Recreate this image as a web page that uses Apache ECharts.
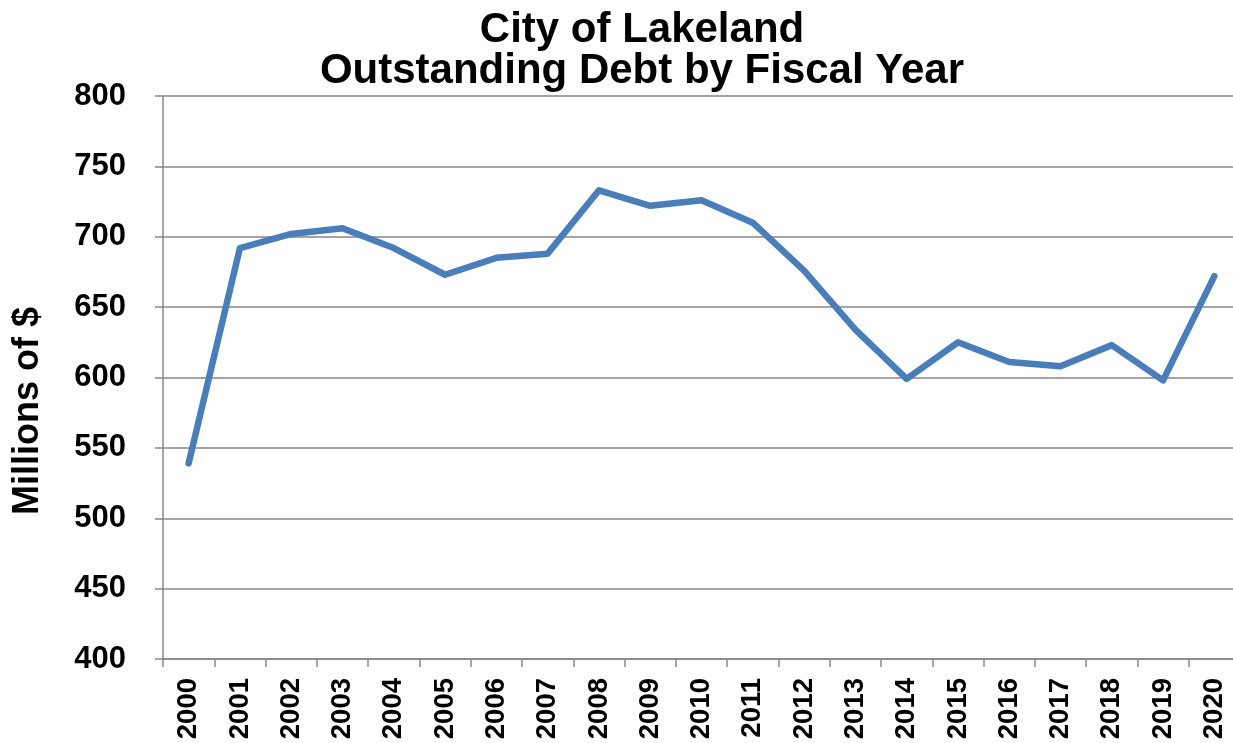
<!DOCTYPE html>
<html>
<head>
<meta charset="utf-8">
<script src="https://cdn.jsdelivr.net/npm/echarts@6/dist/echarts.min.js"></script>
<style>
  html, body { margin: 0; padding: 0; background: #fff; }
  #main { width: 1233px; height: 743px; }
</style>
</head>
<body>
<div id="main"></div>
<script>
// fiscal years and outstanding debt (millions of $)
var years = ['2000', '2001', '2002', '2003', '2004', '2005', '2006', '2007', '2008', '2009', '2010',
  '2011', '2012', '2013', '2014', '2015', '2016', '2017', '2018', '2019', '2020'];
var debt = [539, 692, 702, 706, 692, 673, 685, 688, 733, 722, 726,
  710, 676, 634, 599, 625, 611, 608, 623, 598, 672];
var titleLines = ['City of Lakeland', 'Outstanding Debt by Fiscal Year'];
var yName = 'Millions of $';

var font = "'Liberation Sans', Arial, sans-serif";
var gray = '#868686';

var chart = echarts.init(document.getElementById('main'));

var option = {
  backgroundColor: '#fff',
  animation: false,
  title: {
    text: titleLines.join('\n'),
    left: 637,
    top: 5,
    textAlign: 'center',
    textStyle: {
      fontFamily: font,
      fontWeight: 'bold',
      fontSize: 42,
      lineHeight: 41,
      color: '#000'
    }
  },
  grid: {
    left: 163,
    width: 1077,
    top: 96,
    bottom: 84,
    containLabel: false,
    outerBoundsMode: 'none'
  },
  xAxis: {
    type: 'category',
    data: years,
    boundaryGap: true,
    axisLine: { lineStyle: { color: gray, width: 1.5 } },
    axisTick: { show: true, length: 8, lineStyle: { color: gray, width: 1.5 } },
    axisLabel: {
      rotate: 90,
      margin: 19,
      interval: 0,
      fontFamily: font,
      fontWeight: 'bold',
      fontSize: 27.5,
      color: '#000'
    },
    splitLine: { show: false }
  },
  yAxis: {
    type: 'value',
    min: 400,
    max: 800,
    interval: 50,
    axisLine: { show: true, lineStyle: { color: gray, width: 1.5 } },
    axisTick: { show: true, length: 8, lineStyle: { color: gray, width: 1.5 } },
    axisLabel: {
      margin: 37,
      fontFamily: font,
      fontWeight: 'bold',
      fontSize: 31,
      color: '#000'
    },
    splitLine: { lineStyle: { color: gray, width: 1.5 } }
  },
  graphic: [{
    type: 'text',
    x: 28,
    y: 411,
    rotation: Math.PI / 2,
    style: {
      text: yName,
      fontFamily: font,
      fontWeight: 'bold',
      fontSize: 36,
      fill: '#000',
      textAlign: 'center',
      textVerticalAlign: 'middle'
    }
  }],
  series: [{
    type: 'line',
    data: debt,
    showSymbol: false,
    symbol: 'none',
    lineStyle: { color: '#4a7ebb', width: 6.5, cap: 'round', join: 'round' }
  }]
};

chart.setOption(option);
</script>
</body>
</html>
